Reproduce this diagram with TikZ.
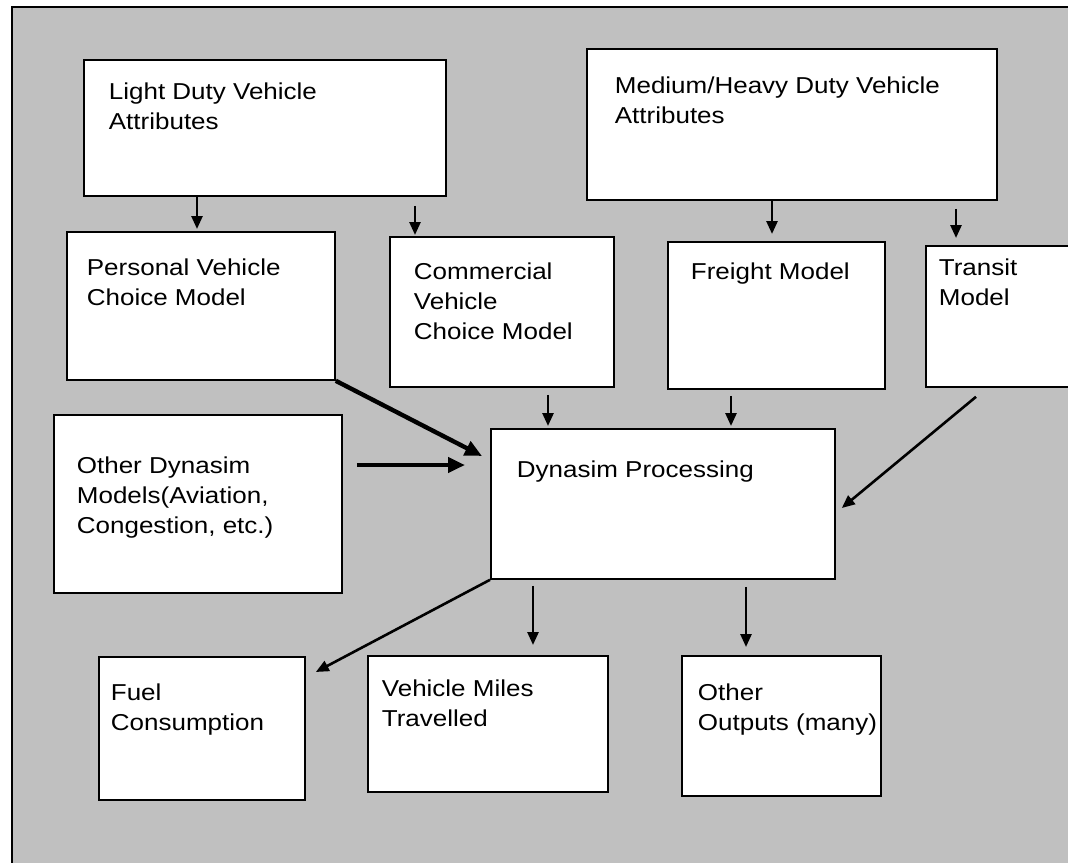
\documentclass[tikz,border=0pt]{standalone}
\usepackage{fontspec}
\setmainfont[FakeStretch=1.13]{Liberation Sans}
\usetikzlibrary{arrows.meta}

\definecolor{panel}{HTML}{C0C0C0}

% box text: width, height, left pad, top pad, lines
\newcommand{\boxtxt}[5]{\parbox[t][#2][t]{#1}{\vspace*{#4}\raggedright\setlength{\leftskip}{#3}#5}}

\tikzset{
    blk/.style={draw, fill=white, line width=1.8pt, anchor=north west, inner sep=0pt},
    arr/.style={-{Triangle[length=13pt,width=11pt]}, line width=2.6pt},
    thickarr/.style={-{Triangle[length=17pt,width=15pt]}, line width=4.4pt}
}

\begin{document}
\begin{tikzpicture}[x=1pt, y=1pt, font=\fontsize{23}{30}\selectfont]
    \useasboundingbox (0,0) rectangle (1068,-862);
    \clip (0,0) rectangle (1068,-862);
    \fill[white] (0,0) rectangle (1068,-862);
    \draw[fill=panel, line width=1.8pt] (12,-7) rectangle (1090,-890);

    \path (83,-59) node [blk] (ldv) {\boxtxt{362pt}{136pt}{25pt}{23pt}{Light Duty Vehicle\\Attributes}};
    \path (586,-48) node [blk] (mhd) {\boxtxt{410pt}{151pt}{28pt}{28pt}{Medium/Heavy Duty Vehicle\\Attributes}};

    \path (66,-231) node [blk] (per) {\boxtxt{268pt}{148pt}{20pt}{27pt}{Personal Vehicle\\Choice Model}};
    \path (389,-236) node [blk] (com) {\boxtxt{224pt}{150pt}{24pt}{26pt}{Commercial\\Vehicle\\Choice Model}};
    \path (667,-241) node [blk] (fre) {\boxtxt{217pt}{147pt}{23pt}{21pt}{Freight Model}};
    \path (925,-245) node [blk] (tra) {\boxtxt{160pt}{141pt}{13pt}{13pt}{Transit\\Model}};

    \path (53,-414) node [blk] (oth) {\boxtxt{288pt}{178pt}{23pt}{42pt}{Other Dynasim\\Models(Aviation,\\Congestion, etc.)}};
    \path (490,-428) node [blk] (dyn) {\boxtxt{344pt}{150pt}{26pt}{32pt}{Dynasim Processing}};

    \path (98,-656) node [blk] (fue) {\boxtxt{206pt}{143pt}{12pt}{27pt}{Fuel\\Consumption}};
    \path (367,-655) node [blk] (vmt) {\boxtxt{240pt}{136pt}{14pt}{24pt}{Vehicle Miles\\Travelled}};
    \path (681,-655) node [blk] (out) {\boxtxt{199pt}{140pt}{16pt}{28pt}{Other\\Outputs (many)}};

    % attributes feed the choice models
    \draw [arr] ([xshift=114pt]ldv.south west) -- ([xshift=131pt,yshift=2pt]per.north west);
    \draw [arr] ([xshift=332pt,yshift=-9pt]ldv.south west) -- ([xshift=26pt,yshift=1pt]com.north west);
    \draw [arr] ([xshift=186pt]mhd.south west) -- ([xshift=105pt,yshift=7pt]fre.north west);
    \draw [arr] ([xshift=370pt,yshift=-8pt]mhd.south west) -- ([xshift=31pt,yshift=7pt]tra.north west);

    % models feed the processing
    \draw [thickarr] (per.south east) -- ([xshift=-8pt,yshift=-28pt]dyn.north west);
    \draw [arr] ([xshift=159pt,yshift=-7pt]com.south west) -- ([xshift=58pt,yshift=2pt]dyn.north west);
    \draw [arr] ([xshift=64pt,yshift=-6pt]fre.south west) -- ([xshift=241pt,yshift=2pt]dyn.north west);
    \draw [arr] ([xshift=51pt,yshift=-9pt]tra.south west) -- ([xshift=6pt,yshift=-80pt]dyn.north east);
    \draw [thickarr] ([xshift=14pt,yshift=-51pt]oth.north east) -- ([xshift=-25pt,yshift=-37pt]dyn.north west);

    % outputs
    \draw [arr] (dyn.south west) -- ([xshift=10pt,yshift=-16pt]fue.north east);
    \draw [arr] ([xshift=43pt,yshift=-6pt]dyn.south west) -- ([xshift=166pt,yshift=10pt]vmt.north west);
    \draw [arr] ([xshift=256pt,yshift=-7pt]dyn.south west) -- ([xshift=65pt,yshift=8pt]out.north west);
\end{tikzpicture}
\end{document}
